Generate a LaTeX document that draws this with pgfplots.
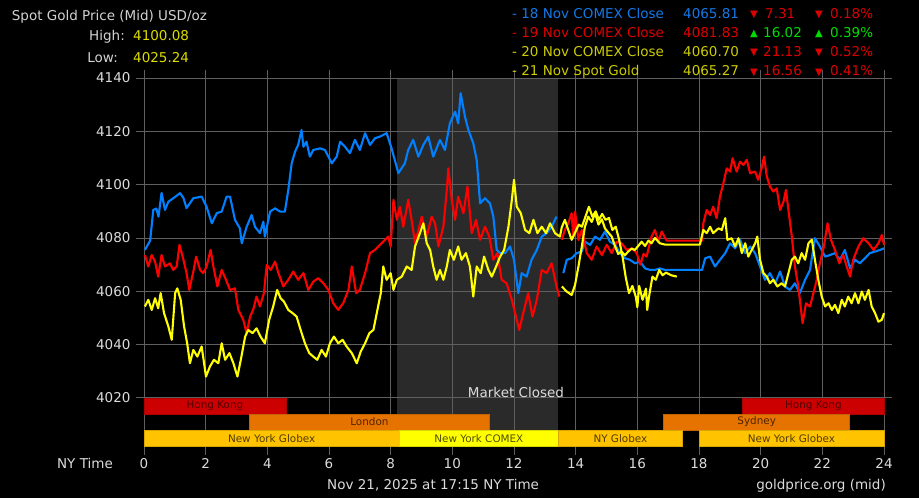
\documentclass[border=0pt]{standalone}
\usepackage{pgfplots}
\pgfplotsset{compat=1.18}
\usepackage{fontspec}
\setmainfont{DejaVu Sans}
\definecolor{gpblue}{RGB}{0,128,255}
\definecolor{gpred}{RGB}{255,0,0}
\definecolor{gpyellow}{RGB}{255,255,0}
\definecolor{gridgray}{RGB}{95,95,95}
\definecolor{labelgray}{RGB}{220,220,220}
\definecolor{shadegray}{RGB}{42,42,42}
\definecolor{legblue}{RGB}{20,120,230}
\definecolor{legred}{RGB}{220,0,0}
\definecolor{legyellow}{RGB}{204,204,0}
\definecolor{leggreen}{RGB}{0,220,0}
\definecolor{hkred}{RGB}{204,0,0}
\definecolor{ldorange}{RGB}{230,115,0}
\definecolor{nyglobex}{RGB}{255,195,0}
\definecolor{nycomex}{RGB}{255,255,0}
\newcommand\fs{\fontsize{13.5}{16}\selectfont}
\newcommand\fb{\fontsize{10.4}{12}\selectfont}
\newcommand\ft{\fontsize{10}{11}\selectfont}
\pgfplotsset{price/.style={line width=2.1pt, line join=round}}
\begin{document}
\begin{tikzpicture}
\begin{scope}[shift={(-144pt,446.7pt)}, x=1pt, y=-1pt]
\fill[black] (0,0) rectangle (919,498);
% market closed shading (behind the grid)
\fill[shadegray] (396.8,78) rectangle (558.1,430);
\end{scope}
\begin{axis}[
 at={(0,0)}, anchor=south west,
 scale only axis, width=740pt, height=368.7pt,
 xmin=0, xmax=24, ymin=4001.7, ymax=4140,
 xtick={0,2,...,24}, ytick={4020,4040,...,4140},
 grid=major, major grid style={draw=gridgray, line width=0.9pt},
 axis line style={draw=none},
 tick align=outside, major tick length=8pt,
 tick style={draw=gridgray, line width=0.9pt},
 ticklabel style={font=\fs, text=labelgray},
 yticklabel style={xshift=-2pt},
 /pgf/number format/assume math mode=true,
 /pgf/number format/1000 sep={},
 clip=false,
]
% session bars
\addplot[fill=hkred, draw=hkred!85!black, line width=0.6pt] coordinates {(0,4013.9) (4.6,4013.9) (4.6,4020) (0,4020)} -- cycle;
\addplot[fill=hkred, draw=hkred!85!black, line width=0.6pt] coordinates {(19.42,4013.9) (24,4013.9) (24,4020) (19.42,4020)} -- cycle;
\addplot[fill=ldorange, draw=ldorange!85!black, line width=0.6pt] coordinates {(3.42,4008) (11.2,4008) (11.2,4013.9) (3.42,4013.9)} -- cycle;
\addplot[fill=ldorange, draw=ldorange!85!black, line width=0.6pt] coordinates {(16.85,4008) (22.88,4008) (22.88,4013.9) (16.85,4013.9)} -- cycle;
\addplot[fill=nyglobex, draw=nyglobex!85!black, line width=0.6pt] coordinates {(0,4001.7) (8.28,4001.7) (8.28,4008) (0,4008)} -- cycle;
\addplot[fill=nycomex, draw=nycomex!85!black, line width=0.6pt] coordinates {(8.28,4001.7) (13.44,4001.7) (13.44,4008) (8.28,4008)} -- cycle;
\addplot[fill=nyglobex, draw=nyglobex!85!black, line width=0.6pt] coordinates {(13.44,4001.7) (17.46,4001.7) (17.46,4008) (13.44,4008)} -- cycle;
\addplot[fill=nyglobex, draw=nyglobex!85!black, line width=0.6pt] coordinates {(18.01,4001.7) (24,4001.7) (24,4008) (18.01,4008)} -- cycle;

\node[font=\fb, text={rgb,255:red,80;green,0;blue,0}] at (axis cs:2.3,4016.95) {Hong Kong};
\node[font=\fb, text={rgb,255:red,80;green,0;blue,0}] at (axis cs:21.71,4016.95) {Hong Kong};
\node[font=\fb, text={rgb,255:red,80;green,35;blue,0}] at (axis cs:7.31,4010.95) {London};
\node[font=\fb, text={rgb,255:red,80;green,35;blue,0}] at (axis cs:19.87,4010.95) {Sydney};
\node[font=\fb, text={rgb,255:red,80;green,60;blue,0}] at (axis cs:4.14,4004.85) {New York Globex};
\node[font=\fb, text={rgb,255:red,80;green,80;blue,0}] at (axis cs:10.86,4004.85) {New York COMEX};
\node[font=\fb, text={rgb,255:red,80;green,60;blue,0}] at (axis cs:15.45,4004.85) {NY Globex};
\node[font=\fb, text={rgb,255:red,80;green,60;blue,0}] at (axis cs:21.0,4004.85) {New York Globex};

% 18 Nov (blue)
\addplot[gpblue, price] coordinates {
(0.03,4075.5)(0.2,4079)(0.3,4090.5)(0.4,4091)(0.47,4088)(0.57,4096.9)(0.68,4090.5)(0.79,4093.6)(0.95,4094.9)(1.17,4096.8)(1.28,4095)(1.38,4091.2)(1.6,4094.9)(1.87,4095.5)(2.03,4091.7)(2.2,4085.5)(2.36,4089.3)(2.52,4089.9)(2.68,4095.5)(2.79,4095.5)(2.95,4086.8)(3.11,4083.6)(3.17,4078)(3.33,4084.2)(3.49,4088.6)(3.6,4084.2)(3.76,4081.8)(3.87,4086.1)(3.92,4080.5)(4.09,4089.9)(4.25,4091.1)(4.41,4089.9)(4.57,4089.9)(4.68,4098)(4.79,4108)(4.9,4112.4)(5.0,4114.9)(5.11,4120.5)(5.17,4114.2)(5.27,4116.1)(5.38,4110.5)(5.49,4113)(5.71,4113.6)(5.87,4113)(6.09,4108)(6.25,4110.5)(6.36,4116.1)(6.52,4114.2)(6.68,4111.8)(6.84,4116.8)(7.0,4113)(7.17,4119.3)(7.33,4114.9)(7.49,4117.4)(7.65,4118)(7.87,4119.3)(8.03,4113.6)(8.25,4104.3)(8.46,4108)(8.57,4113)(8.73,4116.8)(8.9,4110.5)(9.06,4114.9)(9.22,4118)(9.38,4110.5)(9.6,4116.8)(9.76,4113)(9.92,4123)(10.09,4127.4)(10.19,4123)(10.27,4134.3)(10.41,4125.5)(10.52,4120.5)(10.68,4115.5)(10.79,4109.3)(10.9,4093)(11.06,4094.9)(11.22,4093)(11.33,4088)(11.44,4075.5)(11.55,4074.3)(11.71,4074.3)(11.87,4076.8)(12.0,4071.8)(12.14,4059.3)(12.25,4066.8)(12.41,4065.5)(12.57,4071.8)(12.74,4075.5)(12.9,4080.5)(13.06,4081.8)(13.22,4084.2)(13.38,4088)};
\addplot[gpblue, price] coordinates {
(13.6,4066.8)(13.71,4071.8)(13.87,4072.4)(14.03,4074.3)(14.2,4074.9)(14.3,4078.6)(14.47,4077.4)(14.63,4080.5)(14.79,4079.3)(14.95,4082.4)(15.11,4078.6)(15.28,4077.4)(15.44,4074.3)(15.6,4072.4)(15.76,4071.8)(15.92,4070.5)(16.09,4071.1)(16.25,4068.6)(16.41,4068)(16.57,4068)(16.73,4068.6)(16.9,4068)(18.1,4068)(18.2,4072.4)(18.36,4073)(18.52,4069.3)(18.68,4071.8)(18.85,4074.3)(19.01,4078)(19.17,4076.1)(19.33,4079.3)(19.5,4074.3)(19.66,4076.8)(19.82,4074.3)(19.98,4069.3)(20.14,4064.3)(20.3,4066.8)(20.47,4063)(20.63,4067.4)(20.79,4061.8)(20.95,4060.5)(21.11,4063)(21.27,4059.3)(21.44,4064.3)(21.6,4068)(21.76,4079.9)(21.92,4076.8)(22.09,4073)(22.25,4073.6)(22.41,4074.3)(22.57,4071.8)(22.73,4075.5)(22.9,4068.6)(23.06,4071.8)(23.22,4070.5)(23.38,4072.4)(23.54,4074.3)(23.71,4074.9)(23.87,4075.5)(24,4076.1)};

% 19 Nov (red)
\addplot[gpred, price] coordinates {
(0.03,4073.6)(0.14,4069.3)(0.25,4073.6)(0.36,4071.1)(0.46,4065.5)(0.57,4073.6)(0.68,4069.3)(0.84,4070.5)(0.95,4068)(1.06,4069.3)(1.15,4077.4)(1.28,4071.8)(1.38,4066.8)(1.47,4060.5)(1.6,4067.4)(1.69,4073)(1.82,4068)(1.92,4066.8)(2.03,4069.3)(2.16,4075.5)(2.25,4069.3)(2.38,4061.8)(2.52,4068)(2.66,4064.3)(2.79,4060.5)(2.95,4061.1)(3.06,4053)(3.22,4049.3)(3.33,4044.3)(3.44,4050.5)(3.54,4053)(3.65,4058)(3.76,4054.3)(3.89,4059.3)(3.98,4069.9)(4.11,4068)(4.25,4071.1)(4.36,4066.8)(4.52,4061.8)(4.68,4064.3)(4.84,4067.4)(5.0,4064.3)(5.17,4066.8)(5.33,4060.5)(5.49,4063.6)(5.65,4064.9)(5.82,4063)(5.98,4060.5)(6.14,4055.5)(6.3,4053)(6.46,4055.5)(6.63,4060.5)(6.74,4069.3)(6.88,4059.3)(7.0,4060.5)(7.17,4066.8)(7.33,4074.3)(7.49,4075.5)(7.65,4077.4)(7.82,4079.3)(7.92,4080.5)(8.0,4076.8)(8.09,4094.3)(8.2,4086.8)(8.3,4091.7)(8.41,4084.2)(8.57,4094.3)(8.68,4086.8)(8.79,4078)(8.9,4083)(9.01,4088)(9.17,4080.5)(9.33,4088)(9.44,4085.5)(9.55,4076.8)(9.71,4084.2)(9.82,4098)(9.87,4106.1)(9.98,4094.3)(10.09,4086.8)(10.19,4095.5)(10.36,4089.3)(10.49,4099.3)(10.63,4081.8)(10.77,4086.8)(10.9,4079.3)(11.06,4084.2)(11.2,4080.5)(11.33,4071.8)(11.46,4074.3)(11.6,4064.3)(11.76,4063)(11.93,4056.8)(12.09,4049.3)(12.17,4045.5)(12.3,4051.8)(12.46,4059.3)(12.6,4050.5)(12.74,4056.8)(12.9,4068)(13.06,4066.8)(13.22,4070.5)(13.38,4061.8)(13.47,4058)};
\addplot[gpred, price] coordinates {
(13.55,4079.3)(13.65,4083)(13.76,4085.5)(13.87,4089.3)(13.92,4080.5)(13.98,4089.9)(14.09,4079.3)(14.2,4083)(14.36,4074.3)(14.52,4071.8)(14.68,4076.8)(14.85,4073.6)(15.01,4077.4)(15.17,4074.3)(15.33,4078.6)(15.49,4078)(15.66,4075.5)(15.82,4076.1)(15.98,4074.3)(16.1,4070)(16.2,4074)(16.3,4073)(16.46,4080.5)(16.57,4083)(16.68,4078.6)(16.79,4082.4)(16.95,4079)(18.1,4079)(18.14,4085.5)(18.25,4090.5)(18.36,4088.6)(18.46,4091.7)(18.57,4087.4)(18.68,4095.5)(18.79,4100.5)(18.9,4106.1)(19.01,4104.9)(19.09,4109.9)(19.22,4104.9)(19.33,4108.6)(19.44,4107.4)(19.55,4109.3)(19.66,4104.3)(19.82,4104.9)(19.92,4101.8)(20.03,4106.1)(20.11,4110.5)(20.2,4103)(20.3,4099.3)(20.41,4097.4)(20.52,4098.6)(20.63,4090.5)(20.74,4093.6)(20.82,4098)(20.9,4090.5)(21.01,4080.5)(21.11,4069.3)(21.22,4061.8)(21.36,4048)(21.47,4055.5)(21.6,4054.3)(21.71,4059.3)(21.82,4064.3)(21.92,4070.5)(22.05,4076.8)(22.17,4085.5)(22.28,4079.3)(22.41,4075.5)(22.55,4070.5)(22.68,4073.6)(22.79,4069.3)(22.9,4065.5)(23.0,4071.8)(23.17,4076.8)(23.33,4079.9)(23.5,4078)(23.66,4075.5)(23.82,4078)(23.93,4081.1)(24,4077.4)};

% 20 Nov (yellow)
\addplot[gpyellow, price] coordinates {
(13.55,4061.8)(13.71,4059.9)(13.87,4058.6)(13.98,4062.4)(14.09,4069.3)(14.2,4076.8)(14.3,4084.2)(14.41,4088)(14.52,4086)(14.63,4089.3)(14.74,4085)(14.85,4087)(14.95,4083.6)(15.06,4082)(15.17,4080.5)(15.28,4076.8)(15.38,4074)(15.49,4074.9)(15.6,4073.5)(15.71,4075)(15.82,4076)(15.92,4075.5)(16.03,4077)(16.14,4078.6)(16.25,4077)(16.36,4079)(16.46,4078)(16.57,4080)(16.73,4078)(16.9,4077.5)(18.03,4077.5)(18.14,4083)(18.25,4081.8)(18.36,4084.2)(18.46,4081.8)(18.63,4083.6)(18.74,4083)(18.85,4087.4)(18.92,4079.3)(19.06,4079.9)(19.17,4076.8)(19.28,4079.9)(19.39,4074.3)(19.5,4078)(19.6,4073)(19.71,4075.5)(19.82,4078)(19.89,4080.5)(19.98,4071.8)(20.09,4066.8)(20.2,4065.5)(20.3,4063)(20.41,4064.3)(20.54,4061.8)(20.68,4063)(20.79,4061.8)(20.9,4066.8)(21.01,4071.8)(21.11,4073)(21.22,4070.5)(21.33,4074.3)(21.44,4071.8)(21.55,4078)(21.66,4079.3)(21.76,4071.8)(21.87,4064.3)(21.98,4058)(22.09,4054.3)(22.2,4055.5)(22.31,4053)(22.41,4054.9)(22.52,4051.8)(22.63,4056.8)(22.73,4054.3)(22.84,4058)(22.95,4055.5)(23.06,4059.3)(23.17,4055.5)(23.28,4059.9)(23.38,4056.8)(23.5,4060.5)(23.6,4054.3)(23.71,4051.8)(23.82,4048.6)(23.93,4049.3)(24,4051.8)};

% 21 Nov spot (yellow)
\addplot[gpyellow, price] coordinates {
(0.03,4054.3)(0.14,4056.8)(0.25,4053)(0.36,4057.4)(0.46,4053.6)(0.54,4059.3)(0.65,4051.8)(0.79,4046.8)(0.9,4041.8)(1.01,4059.3)(1.08,4061.1)(1.19,4056.8)(1.3,4046.8)(1.4,4040.5)(1.49,4033)(1.6,4038)(1.73,4035.5)(1.87,4039.3)(2.01,4028)(2.14,4031.8)(2.27,4034.3)(2.41,4033)(2.52,4040.5)(2.63,4034.3)(2.77,4036.8)(2.9,4033)(3.03,4028)(3.14,4034.3)(3.28,4043)(3.38,4045.5)(3.52,4044.3)(3.65,4046.1)(3.78,4043)(3.92,4040.5)(4.06,4049.3)(4.19,4054.3)(4.32,4060.5)(4.43,4057.4)(4.54,4056.1)(4.68,4053)(4.82,4051.8)(4.95,4050.5)(5.08,4045.5)(5.22,4040.5)(5.36,4036.8)(5.49,4035.5)(5.62,4034.3)(5.76,4038)(5.9,4035.5)(6.03,4040.5)(6.16,4043)(6.3,4040.5)(6.44,4041.8)(6.57,4039.3)(6.74,4036.8)(6.9,4033)(7.03,4037.4)(7.17,4040.5)(7.31,4044.3)(7.44,4045.5)(7.57,4053)(7.68,4059.3)(7.76,4069.3)(7.87,4064.3)(8.0,4066.8)(8.09,4060.5)(8.2,4064.3)(8.36,4065.5)(8.52,4069.3)(8.68,4068)(8.79,4076.8)(8.95,4081.8)(9.06,4085.5)(9.17,4078)(9.28,4075.5)(9.38,4069.3)(9.49,4064.3)(9.6,4068)(9.71,4064.3)(9.82,4069.3)(9.92,4075.5)(10.05,4071.8)(10.19,4076.8)(10.3,4071.8)(10.44,4074.3)(10.57,4069.3)(10.68,4058)(10.79,4069.3)(10.92,4066.8)(11.03,4073)(11.17,4068)(11.28,4065.5)(11.42,4069.3)(11.55,4073)(11.68,4075.5)(11.82,4084.2)(11.93,4094.3)(12.0,4101.8)(12.09,4091.7)(12.22,4089.3)(12.36,4083)(12.5,4081.8)(12.63,4086.8)(12.76,4081.8)(12.9,4084.2)(13.04,4081.8)(13.17,4085.5)(13.33,4081.8)(13.49,4080.5)(13.55,4084)(13.65,4086.8)(13.76,4083)(13.87,4079.3)(13.98,4082)(14.1,4085)(14.2,4084.2)(14.3,4087.4)(14.43,4091.7)(14.54,4088)(14.65,4090)(14.75,4086.8)(14.86,4089)(14.97,4086.8)(15.08,4087.5)(15.19,4083)(15.3,4084.2)(15.41,4079.3)(15.52,4073)(15.62,4065.5)(15.73,4059.3)(15.84,4062)(15.95,4058)(16.0,4054)(16.06,4062)(16.17,4056.8)(16.28,4061)(16.32,4053)(16.38,4058)(16.49,4065.5)(16.6,4064.3)(16.71,4068)(16.82,4066)(16.93,4067)(17.1,4066)(17.28,4065.5)};

\node[font=\fs, text=labelgray, anchor=base west, inner sep=0pt] at (axis cs:10.5,4020.3) {Market Closed};
\end{axis}
\begin{scope}[shift={(-144pt,446.7pt)}, x=1pt, y=-1pt]
\tikzset{every node/.style={inner sep=0pt, font=\fs}}
\node[anchor=base west, text={rgb,255:red,210;green,210;blue,210}] at (11.7,21) {Spot Gold Price (Mid) USD/oz};
\node[anchor=base east, text={rgb,255:red,210;green,210;blue,210}] at (125,40.5) {High:};
\node[anchor=base west, text={rgb,255:red,220;green,220;blue,0}] at (133,40.5) {4100.08};
\node[anchor=base east, text={rgb,255:red,210;green,210;blue,210}] at (118,62.5) {Low:};
\node[anchor=base west, text={rgb,255:red,220;green,220;blue,0}] at (133,62.5) {4025.24};
% legend
\node[anchor=base west, text=legblue] at (512,18.3) {- 18 Nov COMEX Close};
\node[anchor=base west, text=legblue] at (683,18.3) {4065.81};
\node[anchor=base west, text=legred, font=\ft] at (750,17.5) {▼};
\node[anchor=base west, text=legred] at (765,18.3) {7.31};
\node[anchor=base west, text=legred, font=\ft] at (815,17.5) {▼};
\node[anchor=base west, text=legred] at (830,18.3) {0.18\%};
\node[anchor=base west, text=legred] at (512,37.5) {- 19 Nov COMEX Close};
\node[anchor=base west, text=legred] at (683,37.5) {4081.83};
\node[anchor=base west, text=leggreen, font=\ft] at (750,36.7) {▲};
\node[anchor=base west, text=leggreen] at (763,37.5) {16.02};
\node[anchor=base west, text=leggreen, font=\ft] at (815,36.7) {▲};
\node[anchor=base west, text=leggreen] at (830,37.5) {0.39\%};
\node[anchor=base west, text=legyellow] at (512,56.7) {- 20 Nov COMEX Close};
\node[anchor=base west, text=legyellow] at (683,56.7) {4060.70};
\node[anchor=base west, text=legred, font=\ft] at (750,55.9) {▼};
\node[anchor=base west, text=legred] at (763,56.7) {21.13};
\node[anchor=base west, text=legred, font=\ft] at (815,55.9) {▼};
\node[anchor=base west, text=legred] at (830,56.7) {0.52\%};
\node[anchor=base west, text=legyellow] at (512,76) {- 21 Nov Spot Gold};
\node[anchor=base west, text=legyellow] at (683,76) {4065.27};
\node[anchor=base west, text=legred, font=\ft] at (750,75.2) {▼};
\node[anchor=base west, text=legred] at (763,76) {16.56};
\node[anchor=base west, text=legred, font=\ft] at (815,75.2) {▼};
\node[anchor=base west, text=legred] at (830,76) {0.41\%};
% bottom texts
\node[anchor=base east, text=labelgray] at (113,469) {NY Time};
\node[anchor=base west, text=labelgray] at (327,490) {Nov 21, 2025 at 17:15 NY Time};
\node[anchor=base east, text=labelgray] at (886,490) {goldprice.org (mid)};
\end{scope}
\pgfresetboundingbox
\path (-144pt,-51.3pt) rectangle (775pt,446.7pt);
\end{tikzpicture}
\end{document}
